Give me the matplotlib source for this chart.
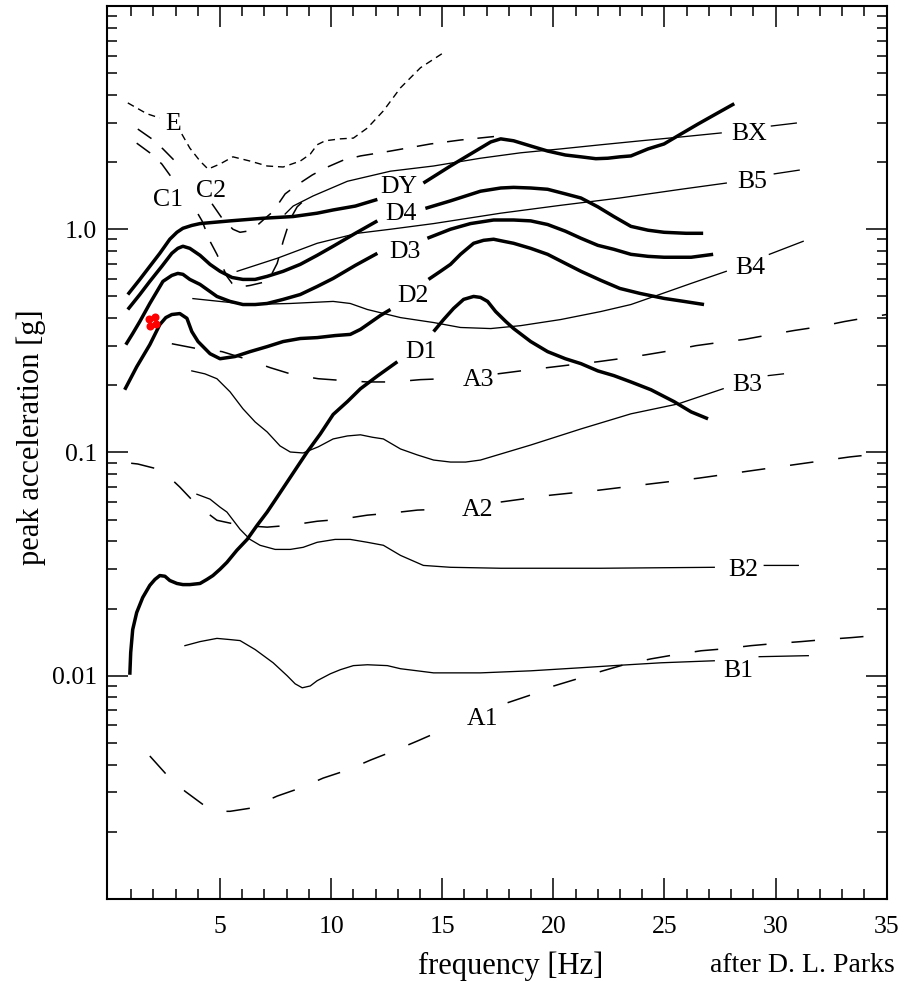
import numpy as np
import matplotlib
matplotlib.use("Agg")
import matplotlib.pyplot as plt
from matplotlib.ticker import FixedLocator, NullFormatter, LogLocator

plt.rcParams['font.family'] = ['Liberation Serif', 'DejaVu Serif']
plt.rcParams['lines.scale_dashes'] = False
plt.rcParams['lines.solid_joinstyle'] = 'round'
plt.rcParams['lines.dash_joinstyle'] = 'round'

gap = np.nan  # break in a curve where its label sits

# ---------------- thick curves (D family) ----------------
dy_f = [0.85, 1.39, 1.84, 2.29, 2.74, 3.06, 3.33, 3.73, 4.10, 5.45, 6.94, 8.29, 9.37, 10.09, 11.09, 12.08, gap,
        14.15, 15.37, 16.72, 17.18, 17.63, 18.21, 18.98, 19.74, 20.54, 21.24, 21.91, 22.45, 22.99, 23.49, 24.26,
        24.98, 25.74, 26.51, 27.33, 28.14]
dy_a = [0.510, 0.596, 0.682, 0.780, 0.902, 0.969, 1.01, 1.04, 1.06, 1.09, 1.12, 1.14, 1.18, 1.22, 1.27, 1.36, gap,
        1.61, 1.92, 2.31, 2.46, 2.54, 2.49, 2.36, 2.24, 2.15, 2.11, 2.07, 2.08, 2.11, 2.13, 2.29,
        2.41, 2.67, 2.96, 3.29, 3.65]

d4_f = [0.85, 1.39, 1.84, 2.38, 2.83, 3.10, 3.33, 3.64, 4.10, 4.55, 5.0, 5.54, 6.03, 6.58, 7.12, 7.84, 8.61, 9.37,
        10.09, 11.09, 12.08, gap, 14.24, 15.37, 16.72, 17.63, 18.21, 18.98, 19.74, 20.54, 21.24, 22.0, 22.72,
        23.49, 24.26, 24.98, 25.97, 26.74]
d4_a = [0.437, 0.510, 0.584, 0.682, 0.780, 0.821, 0.839, 0.821, 0.764, 0.696, 0.648, 0.608, 0.596, 0.596, 0.615,
        0.648, 0.696, 0.764, 0.839, 0.959, 1.09, gap, 1.24, 1.34, 1.48, 1.53, 1.54, 1.53, 1.51, 1.44, 1.38, 1.26,
        1.14, 1.03, 0.99, 0.969, 0.959, 0.959]

d3_f = [0.76, 1.07, 1.39, 1.84, 2.43, 2.83, 3.10, 3.33, 3.64, 4.10, 4.86, 5.45, 6.03, 6.58, 7.12, 7.84, 8.61, 9.37,
        10.09, 11.09, 12.08, gap, 14.33, 15.37, 16.27, 17.31, 18.21, 18.98, 19.74, 20.54, 21.24, 22.0, 22.72,
        23.49, 24.26, 24.98, 26.2, 27.19]
d3_a = [0.304, 0.341, 0.386, 0.465, 0.584, 0.621, 0.634, 0.628, 0.596, 0.566, 0.500, 0.475, 0.460, 0.460, 0.465,
        0.485, 0.510, 0.554, 0.602, 0.689, 0.780, gap, 0.911, 1.00, 1.06, 1.10, 1.10, 1.09, 1.05, 0.98, 0.911,
        0.847, 0.813, 0.772, 0.756, 0.749, 0.749, 0.772]

d2_f = [0.71, 1.25, 1.84, 2.29, 2.56, 2.83, 3.19, 3.51, 3.73, 4.01, 4.55, 5.0, 5.67, 6.35, 7.12, 7.84, 8.61, 9.37,
        10.18, 10.86, 11.32, 11.63, 12.22, 12.67, gap, 14.38, 14.92, 15.37, 15.82, 16.41, 16.86, 17.31, 17.76,
        18.21, 18.98, 19.74, 20.54, 21.24, 22.14, 22.99, 23.89, 24.98, 25.88, 26.78]
d2_a = [0.191, 0.242, 0.304, 0.374, 0.402, 0.415, 0.419, 0.399, 0.348, 0.314, 0.277, 0.263, 0.269, 0.283, 0.298,
        0.314, 0.324, 0.327, 0.334, 0.338, 0.356, 0.374, 0.411, 0.437, gap, 0.596, 0.648, 0.696, 0.772, 0.865,
        0.892, 0.902, 0.883, 0.865, 0.821, 0.772, 0.703, 0.648, 0.590, 0.543, 0.516, 0.490, 0.475, 0.460]

d1_f = [0.94, 0.98, 1.07, 1.25, 1.52, 1.84, 2.07, 2.29, 2.52, 2.74, 3.06, 3.33, 3.64, 4.10, 4.41, 4.68, 5.0, 5.31,
        5.76, 6.22, 6.67, 7.12, 7.57, 8.02, 8.47, 8.92, 9.51, 10.09, 10.73, 11.32, 12.08, 12.98, gap, 14.61,
        15.06, 15.51, 15.96, 16.41, 16.72, 17.04, 17.40, 17.86, 18.21, 18.98, 19.74, 20.54, 21.24, 22.0, 22.72,
        23.49, 24.39, 25.43, 26.2, 26.96]
d1_a = [0.0101, 0.0127, 0.0161, 0.0192, 0.0224, 0.0254, 0.0270, 0.0281, 0.0279, 0.0267, 0.0259, 0.0256, 0.0256,
        0.0259, 0.0270, 0.0281, 0.0300, 0.0322, 0.0365, 0.0408, 0.0472, 0.0541, 0.0631, 0.0737, 0.0861, 0.1005,
        0.121, 0.148, 0.169, 0.193, 0.220, 0.255, gap, 0.348, 0.394, 0.442, 0.485, 0.500, 0.495, 0.475, 0.428,
        0.386, 0.359, 0.314, 0.283, 0.263, 0.250, 0.232, 0.221, 0.207, 0.191, 0.169, 0.152, 0.1415]

# ---------------- thin curves (B family) ----------------
bx_f = [7.93, 8.29, 9.19, 10.73, 12.67, 14.61, 16.72, 18.53, 20.33, 22.14, 23.94, 25.74, 27.55, gap, 29.81, 30.93]
bx_a = [1.17, 1.27, 1.41, 1.64, 1.82, 1.92, 2.08, 2.20, 2.29, 2.39, 2.49, 2.59, 2.70, gap, 2.90, 2.99]

b5_f = [5.77, 7.57, 9.37, 11.18, 12.67, 14.61, 17.63, 20.33, 22.99, 25.74, 27.78, gap, 29.94, 31.06]
b5_a = [0.648, 0.741, 0.865, 0.959, 1.00, 1.06, 1.18, 1.28, 1.38, 1.51, 1.61, gap, 1.77, 1.84]

b4_f = [3.78, 4.99, 6.35, 8.16, 10.09, 10.86, 11.63, 13.12, 14.61, 15.82, 17.18, 18.53, 20.33, 22.14, 23.49,
        24.85, 26.2, 27.78, gap, 29.72, 31.24]
b4_a = [0.489, 0.475, 0.460, 0.465, 0.475, 0.465, 0.437, 0.402, 0.382, 0.363, 0.359, 0.370, 0.394, 0.428, 0.460,
        0.513, 0.572, 0.648, gap, 0.772, 0.883]

b3_f = [3.73, 4.32, 4.86, 5.45, 6.03, 6.58, 7.12, 7.70, 8.16, 8.74, 9.42, 10.09, 10.73, 11.32, 11.86, 12.35, 13.12,
        13.88, 14.61, 15.37, 16.05, 16.72, 18.98, 21.24, 23.49, 25.61, 27.64, gap, 29.67, 30.35]
b3_a = [0.232, 0.225, 0.214, 0.187, 0.157, 0.137, 0.1236, 0.107, 0.1005, 0.0995, 0.106, 0.115, 0.1186, 0.120,
        0.117, 0.115, 0.1037, 0.0975, 0.0925, 0.0906, 0.0906, 0.0925, 0.108, 0.1275, 0.149, 0.165, 0.193, gap,
        0.221, 0.225]

b2_f = [3.96, 4.55, 5.0, 5.31, 5.90, 6.35, 6.80, 7.48, 8.16, 8.74, 9.37, 10.18, 10.86, 11.63, 12.35, 13.12, 14.15,
        15.37, 17.63, 22.14, 27.24, gap, 29.49, 31.02]
b2_a = [0.065, 0.0618, 0.0569, 0.0541, 0.0453, 0.0408, 0.0384, 0.0368, 0.0368, 0.0376, 0.0396, 0.0408, 0.0408,
        0.0396, 0.0384, 0.0346, 0.0312, 0.0306, 0.0303, 0.0303, 0.0306, gap, 0.0312, 0.0312]

b1_f = [3.42, 4.10, 4.86, 5.45, 5.90, 6.58, 7.39, 8.02, 8.38, 8.70, 9.06, 9.37, 9.96, 10.41, 11.0, 11.63, 12.53,
        13.12, 13.88, 14.61, 16.72, 18.98, 21.24, 22.72, 24.85, 27.24, gap, 29.26, 31.47]
b1_a = [0.01364, 0.01422, 0.0147, 0.01452, 0.01437, 0.0131, 0.01143, 0.0100, 0.0092, 0.00883, 0.0090, 0.0095,
        0.0102, 0.01064, 0.0111, 0.0112, 0.0111, 0.01075, 0.01052, 0.0103, 0.0103, 0.01052, 0.01086, 0.0111,
        0.01143, 0.01167, gap, 0.01217, 0.0123]

# ---------------- dashed curves (A family) ----------------
a3_f = [2.83, 3.96, 5.09, 6.13, 7.25, 8.29, 9.42, 10.55, 11.63, 12.81, 14.02, 15.06, gap, 17.49, 18.53, 19.74,
        20.79, 22.0, 22.99, 24.17, 25.29, 26.42, 27.46, 28.59, 29.81, 30.84, 31.97, 33.10, 33.87, 35.0]
a3_a = [0.307, 0.292, 0.283, 0.263, 0.240, 0.223, 0.214, 0.210, 0.207, 0.207, 0.212, 0.214, gap, 0.225, 0.232,
        0.240, 0.247, 0.255, 0.263, 0.274, 0.286, 0.301, 0.311, 0.321, 0.338, 0.352, 0.366, 0.386, 0.398, 0.415]

a2_f = [1.0, 1.30, 2.38, 3.19, 3.96, 4.86, 5.90, 7.12, 8.16, 9.37, 10.41, 11.63, 12.67, 13.88, 14.92, gap, 17.63,
        19.88, 22.05, 24.30, 26.56, 28.81, 31.06, 33.33, 35.0]
a2_a = [0.0895, 0.0888, 0.0834, 0.070, 0.0581, 0.0497, 0.0472, 0.0463, 0.0472, 0.0492, 0.0502, 0.0524, 0.0535,
        0.0552, 0.0557, gap, 0.0600, 0.0644, 0.0678, 0.0722, 0.0768, 0.0826, 0.0888, 0.0955, 0.0995]

a1_f = [1.84, 2.61, 3.42, 4.32, 4.91, 5.45, 6.35, 7.57, 8.61, 9.64, 10.73, 11.77, 12.81, 13.88, 14.92, gap, 17.94,
        18.98, 20.02, 21.10, 22.23, 23.18, 24.39, 25.43, 26.65, 27.69, 28.90, 29.94, 31.15, 32.20, 33.42, 34.46,
        35.0]
a1_a = [0.00437, 0.00359, 0.00304, 0.00261, 0.00247, 0.00247, 0.00255, 0.00289, 0.00314, 0.00348, 0.00378,
        0.00419, 0.0046, 0.0051, 0.00566, gap, 0.00757, 0.0082, 0.0090, 0.0097, 0.01052, 0.0112, 0.0119, 0.0124,
        0.01294, 0.0132, 0.01364, 0.01393, 0.01422, 0.01452, 0.01482, 0.01513, 0.0153]

# ---------------- dashed curves (C family) and E ----------------
c1_f = [1.25, 1.84, 2.38, 2.83, gap, 4.01, 4.19, 4.55, 4.86, 5.31, 5.54, 6.03, 6.35, 6.94, 7.34, 7.57, 7.70, 7.84,
        8.16, 8.47, 8.83, 9.15]
c1_a = [2.43, 2.20, 1.96, 1.70, gap, 1.17, 1.09, 0.883, 0.772, 0.615, 0.572, 0.554, 0.560, 0.578, 0.634, 0.703,
        0.780, 0.883, 1.11, 1.26, 1.36, 1.45]

c2_f = [1.30, 1.93, 2.43, 2.97, gap, 4.64, 5.09, 5.58, 5.90, 6.22, 6.67, 7.12, 7.39, 7.93, 8.47, 9.15, 9.73, 10.55,
        11.32, 12.67, 14.47, 15.82, 17.63]
c2_a = [2.81, 2.54, 2.29, 2.02, gap, 1.30, 1.12, 1.00, 0.969, 0.98, 1.04, 1.14, 1.20, 1.44, 1.58, 1.75, 1.88, 2.04,
        2.13, 2.24, 2.41, 2.51, 2.62]

e_f = [0.85, 1.71, 2.29, gap, 3.28, 3.64, 4.10, 4.46, 5.0, 5.58, 6.35, 7.12, 7.84, 8.61, 9.06, 9.37, 9.73, 10.41,
       11.0, 11.63, 12.35, 13.12, 14.02, 15.06]
e_a = [3.68, 3.29, 3.15, gap, 2.67, 2.31, 2.02, 1.86, 1.96, 2.11, 2.02, 1.92, 1.90, 2.02, 2.17, 2.39, 2.49, 2.54,
       2.56, 2.84, 3.39, 4.30, 5.29, 6.18]

# red point cluster
red_f = [1.80, 2.07, 1.84, 2.11]
red_a = [0.398, 0.406, 0.370, 0.378]

# curve labels and their anchor points (frequency, acceleration)
label_names = ['E', 'C1', 'C2', 'DY', 'D4', 'D3', 'D2', 'D1', 'A3', 'A2', 'A1',
               'BX', 'B5', 'B4', 'B3', 'B2', 'B1']
label_f = [2.88, 2.65, 4.60, 13.03, 13.12, 13.34, 13.70, 14.06, 16.63, 16.59, 16.82,
           28.81, 28.94, 28.85, 28.72, 28.54, 28.32]
label_a = [2.96, 1.35, 1.48, 1.54, 1.17, 0.788, 0.50, 0.283, 0.212, 0.0552, 0.00641,
           2.67, 1.63, 0.668, 0.201, 0.0299, 0.01052]

x_ticks = [5, 10, 15, 20, 25, 30, 35]
y_ticks = [0.01, 0.1, 1.0]
y_ticklabels = ['0.01', '0.1', '1.0']

# ---------------- drawing ----------------
fig = plt.figure(figsize=(9.05, 9.81), dpi=100)
ax = fig.add_axes([0.1179, 0.0836, 0.8619, 0.9103])

thick = dict(color='black', lw=2.5, solid_capstyle='butt')
thin = dict(color='black', lw=0.95)
a_style = dict(color='black', lw=1.1, dashes=(17, 18))
c_style = dict(color='black', lw=1.1, dashes=(12, 10))
e_style = dict(color='black', lw=1.0, dashes=(5, 3.5))

for f, a in [(dy_f, dy_a), (d4_f, d4_a), (d3_f, d3_a), (d2_f, d2_a), (d1_f, d1_a)]:
    ax.plot(f, a, **thick)
for f, a in [(bx_f, bx_a), (b5_f, b5_a), (b4_f, b4_a), (b3_f, b3_a), (b2_f, b2_a), (b1_f, b1_a)]:
    ax.plot(f, a, **thin)
for f, a in [(a3_f, a3_a), (a2_f, a2_a), (a1_f, a1_a)]:
    ax.plot(f, a, **a_style)
for f, a in [(c1_f, c1_a), (c2_f, c2_a)]:
    ax.plot(f, a, **c_style)
ax.plot(e_f, e_a, **e_style)

ax.plot(red_f, red_a, 'o', color='#ff0000', ms=5.8, mec='none', zorder=5)

for name, f, a in zip(label_names, label_f, label_a):
    ax.text(f, a, name, ha='center', va='center', fontsize=18.5, color='black')

ax.set_yscale('log')
ax.set_xlim(-0.1, 35)
ax.set_ylim(1e-3, 10)

ax.xaxis.set_major_locator(FixedLocator(x_ticks))
ax.xaxis.set_minor_locator(FixedLocator([v for v in range(1, 35) if v % 5]))
ax.set_xticklabels([str(v) for v in x_ticks])
ax.yaxis.set_major_locator(FixedLocator(y_ticks))
ax.set_yticklabels(y_ticklabels)
ax.yaxis.set_minor_locator(LogLocator(base=10, subs=np.arange(2, 10)))
ax.yaxis.set_minor_formatter(NullFormatter())

ax.tick_params(which='both', direction='in', top=True, right=True, width=1.1, colors='black')
ax.tick_params(which='major', length=15, labelsize=18.5)
ax.tick_params(axis='x', which='major', pad=12)
ax.tick_params(axis='y', which='major', pad=7)
ax.tick_params(which='minor', length=7.5)
for s in ax.spines.values():
    s.set_linewidth(1.5)

ax.set_xlabel('frequency [Hz]', fontsize=22)
ax.xaxis.set_label_coords(0.5175, -0.0587)
ax.set_ylabel('peak acceleration [g]', fontsize=22)
ax.yaxis.set_label_coords(-0.0777, 0.517)

fig.text(0.989, 1 - 972 / 981, 'after D. L. Parks', ha='right', va='baseline', fontsize=20)

fig.savefig('out.png', dpi=100)
